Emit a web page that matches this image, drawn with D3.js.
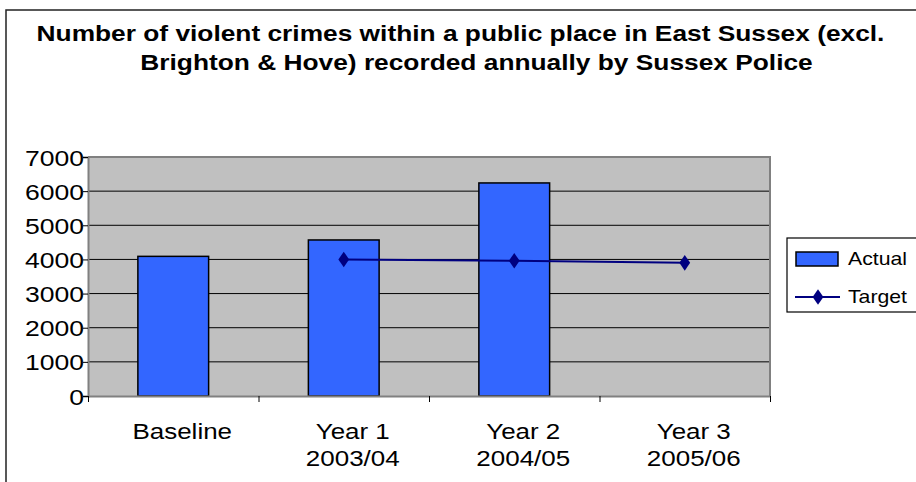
<!DOCTYPE html>
<html><head><meta charset="utf-8">
<script src="https://cdn.jsdelivr.net/npm/d3@7"></script>
<style>html,body{margin:0;padding:0;background:#fff;overflow:hidden}svg{display:block}text{font-family:"Liberation Sans",Arial,sans-serif}</style>
</head><body><svg id="c" width="916" height="482"></svg>
<script>
const titleLines = ["Number of violent crimes within a public place in East Sussex (excl.", "Brighton & Hove) recorded annually by Sussex Police"];
const categories = ["Baseline", "Year 1\n2003/04", "Year 2\n2004/05", "Year 3\n2005/06"];
const actual = [4090, 4570, 6240, null];
const target = [null, 4000, 3960, 3900];
const yTicks = [0, 1000, 2000, 3000, 4000, 5000, 6000, 7000];
const seriesNames = ["Actual", "Target"];

const svg = d3.select("#c");
const SX = 1.18;
const plot = {l: 88, r: 770, t: 157, b: 396};

function stext(g, x, y, str, size, anchor, weight, sx) {
  const gg = g.append("g").attr("transform", `translate(${x},${y}) scale(${sx || SX},1)`);
  return gg.append("text").attr("x", 0).attr("y", 0).attr("text-anchor", anchor)
    .attr("font-size", size).attr("font-weight", weight || "normal").attr("fill", "#000").text(str);
}

// outer border
svg.append("rect").attr("x", 6).attr("y", 10).attr("width", 1000).attr("height", 1000)
  .attr("fill", "#fff").attr("stroke", "#222").attr("stroke-width", 1.5);

// title
stext(svg, 460.5, 41, titleLines[0], 22.5, "middle", "bold", 1.17);
stext(svg, 476.5, 70, titleLines[1], 22.5, "middle", "bold", 1.17);

const x = d3.scaleBand().domain(categories).range([plot.l, plot.r]).padding(0);
const y = d3.scaleLinear().domain([0, 7000]).range([plot.b, plot.t]);

// plot area
svg.append("rect").attr("x", plot.l).attr("y", plot.t).attr("width", plot.r - plot.l).attr("height", plot.b - plot.t)
  .attr("fill", "#C0C0C0");

// gridlines
svg.append("g").selectAll("line").data(yTicks.filter(d => d > 0 && d < 7000)).join("line")
  .attr("x1", plot.l).attr("x2", plot.r).attr("y1", d => y(d)).attr("y2", d => y(d))
  .attr("stroke", "#000").attr("stroke-width", 1);

// plot border (top/right)
svg.append("path").attr("d", `M${plot.l},${plot.t}H${plot.r}V${plot.b}`).attr("fill", "none")
  .attr("stroke", "#808080").attr("stroke-width", 2);

// bars
const bw = x.bandwidth() * 0.415;
svg.append("g").selectAll("rect").data(categories.map((c, i) => ({c, v: actual[i]})).filter(d => d.v != null)).join("rect")
  .attr("x", d => x(d.c) + x.bandwidth() / 2 - bw / 2).attr("width", bw)
  .attr("y", d => y(d.v)).attr("height", d => y(0) - y(d.v))
  .attr("fill", "#3366FF").attr("stroke", "#000").attr("stroke-width", 1.5);

// axes
const yAxis = d3.axisLeft(y).tickValues(yTicks).tickSize(5).tickFormat("");
const ya = svg.append("g").attr("transform", `translate(${plot.l},0)`).call(yAxis);
ya.select(".domain").attr("stroke", "#808080").attr("stroke-width", 2);
ya.selectAll(".tick line").attr("stroke", "#000");
yTicks.forEach(t => stext(svg, 84, y(t) + 8.5, d3.format("d")(t), 22.5, "end"));

const xAxis = d3.axisBottom(d3.scaleLinear().domain([0, categories.length]).range([plot.l, plot.r]))
  .tickValues(d3.range(categories.length + 1)).tickSize(6).tickFormat("").tickSizeOuter(0);
const xa = svg.append("g").attr("transform", `translate(0,${plot.b})`).call(xAxis);
xa.select(".domain").attr("stroke", "#808080").attr("stroke-width", 2);
xa.selectAll(".tick line").attr("stroke", "#000");

categories.forEach(c => {
  const lines = c.split("\n");
  lines.forEach((ln, i) => stext(svg, x(c) + x.bandwidth() / 2 + 9, 439 + i * 26.5, ln, 22, "middle"));
});

// target line
const pts = categories.map((c, i) => ({c, v: target[i]})).filter(d => d.v != null);
const line = d3.line().x(d => x(d.c) + x.bandwidth() / 2).y(d => y(d.v));
svg.append("path").datum(pts).attr("d", line).attr("fill", "none").attr("stroke", "#000080").attr("stroke-width", 2);
const diamond = d3.symbol().type(d3.symbolDiamond).size(70);
svg.append("g").selectAll("path").data(pts).join("path")
  .attr("transform", d => `translate(${x(d.c) + x.bandwidth() / 2},${y(d.v)}) scale(1.2,1)`)
  .attr("d", diamond).attr("fill", "#000080");

// legend
const lg = svg.append("g");
lg.append("rect").attr("x", 787).attr("y", 238).attr("width", 200).attr("height", 74)
  .attr("fill", "#fff").attr("stroke", "#000").attr("stroke-width", 1.2);
lg.append("rect").attr("x", 796).attr("y", 252).attr("width", 42).attr("height", 14)
  .attr("fill", "#3366FF").attr("stroke", "#000").attr("stroke-width", 1.5);
lg.append("line").attr("x1", 795).attr("x2", 840).attr("y1", 297).attr("y2", 297)
  .attr("stroke", "#000080").attr("stroke-width", 2);
lg.append("path").attr("transform", "translate(818,297) scale(1.2,1)").attr("d", diamond).attr("fill", "#000080");
stext(lg, 848, 265, seriesNames[0], 18, "start");
stext(lg, 848, 303, seriesNames[1], 18, "start");
</script></body></html>
